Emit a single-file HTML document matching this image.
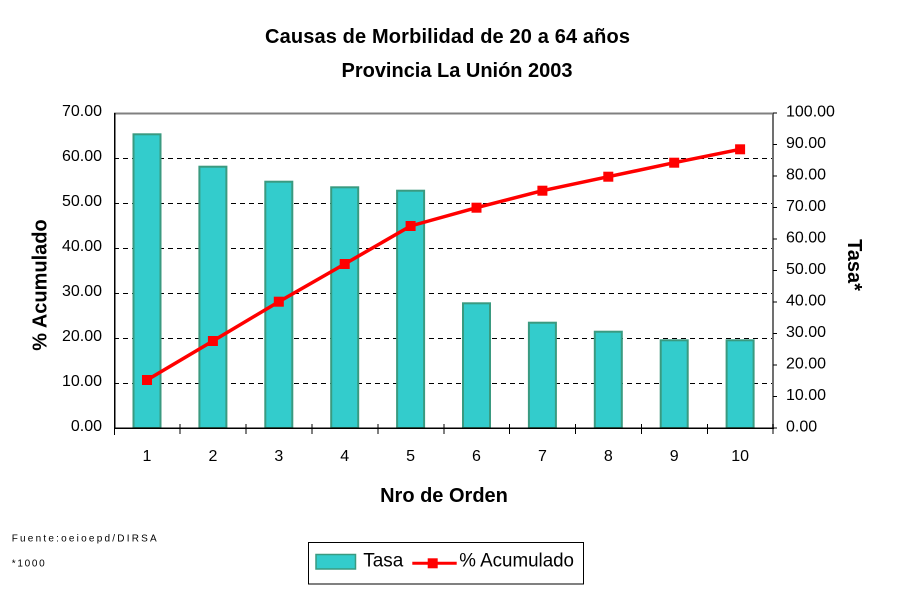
<!DOCTYPE html>
<html>
<head>
<meta charset="utf-8">
<style>
  html, body { margin: 0; padding: 0; background: #ffffff; }
  svg { display: block; }
  text { font-family: "Liberation Sans", Arial, sans-serif; fill: #000; }
</style>
</head>
<body>
<svg width="900" height="600" viewBox="0 0 900 600" xmlns="http://www.w3.org/2000/svg">
  <rect x="0" y="0" width="900" height="600" fill="#ffffff"/>

  <!-- Title -->
  <text x="447.5" y="43" font-size="20" font-weight="bold" text-anchor="middle" textLength="365" lengthAdjust="spacing">Causas de Morbilidad de 20 a 64  años</text>
  <text x="457" y="77" font-size="20" font-weight="bold" text-anchor="middle" textLength="231" lengthAdjust="spacing">Provincia La Unión 2003</text>

  <!-- Gridlines (left axis 10..60) -->
  <g stroke="#000" stroke-width="1" stroke-dasharray="5,4" shape-rendering="crispEdges">
    <line x1="114" y1="383.5" x2="773" y2="383.5"/>
    <line x1="114" y1="338.5" x2="773" y2="338.5"/>
    <line x1="114" y1="293.5" x2="773" y2="293.5"/>
    <line x1="114" y1="248.5" x2="773" y2="248.5"/>
    <line x1="114" y1="203.5" x2="773" y2="203.5"/>
    <line x1="114" y1="158.5" x2="773" y2="158.5"/>
  </g>

  <!-- Bars -->
  <g fill="#33CCCC" stroke="#3A9A80" stroke-width="2">
    <rect x="133.5" y="134.3" width="27" height="293.7"/>
    <rect x="199.4" y="166.7" width="27" height="261.3"/>
    <rect x="265.3" y="181.7" width="27" height="246.3"/>
    <rect x="331.2" y="187.3" width="27" height="240.7"/>
    <rect x="397.1" y="190.7" width="27" height="237.3"/>
    <rect x="463.0" y="303.3" width="27" height="124.7"/>
    <rect x="528.9" y="322.7" width="27" height="105.3"/>
    <rect x="594.8" y="331.7" width="27" height="96.3"/>
    <rect x="660.7" y="340.3" width="27" height="87.7"/>
    <rect x="726.6" y="340.3" width="27" height="87.7"/>
  </g>

  <!-- Plot borders / axes -->
  <g shape-rendering="crispEdges">
    <line x1="114" y1="113.5" x2="773" y2="113.5" stroke="#808080" stroke-width="2"/>
    <line x1="773" y1="113" x2="773" y2="428" stroke="#707070" stroke-width="2"/>
    <line x1="114.5" y1="113" x2="114.5" y2="428" stroke="#000" stroke-width="1.5"/>
    <line x1="114" y1="428" x2="774" y2="428" stroke="#000" stroke-width="1.5"/>
  </g>

  <!-- X ticks -->
  <g stroke="#000" stroke-width="1.2" shape-rendering="crispEdges">
    <line x1="114.5" y1="428" x2="114.5" y2="435"/>
    <line x1="180" y1="424" x2="180" y2="434"/>
    <line x1="246" y1="424" x2="246" y2="434"/>
    <line x1="312" y1="424" x2="312" y2="434"/>
    <line x1="378" y1="424" x2="378" y2="434"/>
    <line x1="444" y1="424" x2="444" y2="434"/>
    <line x1="509.5" y1="424" x2="509.5" y2="434"/>
    <line x1="575.5" y1="424" x2="575.5" y2="434"/>
    <line x1="641.5" y1="424" x2="641.5" y2="434"/>
    <line x1="707.5" y1="424" x2="707.5" y2="434"/>
    <line x1="773" y1="424" x2="773" y2="434"/>
  </g>

  <!-- Right axis ticks -->
  <g stroke="#000" stroke-width="1" shape-rendering="crispEdges">
    <line x1="773" y1="428" x2="777" y2="428"/>
    <line x1="773" y1="396.5" x2="777" y2="396.5"/>
    <line x1="773" y1="365" x2="777" y2="365"/>
    <line x1="773" y1="333.5" x2="777" y2="333.5"/>
    <line x1="773" y1="302" x2="777" y2="302"/>
    <line x1="773" y1="270.5" x2="777" y2="270.5"/>
    <line x1="773" y1="239" x2="777" y2="239"/>
    <line x1="773" y1="207.5" x2="777" y2="207.5"/>
    <line x1="773" y1="176" x2="777" y2="176"/>
    <line x1="773" y1="144.5" x2="777" y2="144.5"/>
    <line x1="773" y1="113" x2="777" y2="113"/>
  </g>

  <!-- Left axis labels -->
  <g font-size="16" text-anchor="end">
    <text x="102" y="431">0.00</text>
    <text x="102" y="386">10.00</text>
    <text x="102" y="341">20.00</text>
    <text x="102" y="296">30.00</text>
    <text x="102" y="251">40.00</text>
    <text x="102" y="206">50.00</text>
    <text x="102" y="161">60.00</text>
    <text x="102" y="116">70.00</text>
  </g>

  <!-- Right axis labels -->
  <g font-size="16" text-anchor="start">
    <text x="786" y="431.5">0.00</text>
    <text x="786" y="400">10.00</text>
    <text x="786" y="368.5">20.00</text>
    <text x="786" y="337">30.00</text>
    <text x="786" y="305.5">40.00</text>
    <text x="786" y="274">50.00</text>
    <text x="786" y="242.5">60.00</text>
    <text x="786" y="211">70.00</text>
    <text x="786" y="179.5">80.00</text>
    <text x="786" y="148">90.00</text>
    <text x="786" y="116.5">100.00</text>
  </g>

  <!-- X labels -->
  <g font-size="16" text-anchor="middle">
    <text x="147" y="461">1</text>
    <text x="212.9" y="461">2</text>
    <text x="278.8" y="461">3</text>
    <text x="344.7" y="461">4</text>
    <text x="410.6" y="461">5</text>
    <text x="476.5" y="461">6</text>
    <text x="542.4" y="461">7</text>
    <text x="608.3" y="461">8</text>
    <text x="674.2" y="461">9</text>
    <text x="740.1" y="461">10</text>
  </g>

  <!-- Axis titles -->
  <text x="444" y="502" font-size="20" font-weight="bold" text-anchor="middle">Nro de Orden</text>
  <text transform="translate(46.5,285) rotate(-90)" font-size="20" font-weight="bold" text-anchor="middle">% Acumulado</text>
  <text transform="translate(848,265) rotate(90)" font-size="20" font-weight="bold" text-anchor="middle">Tasa*</text>

  <!-- Line series -->
  <polyline fill="none" stroke="#FF0000" stroke-width="3.5" stroke-linejoin="round"
    points="147,380 212.9,341 278.8,301.7 344.7,264 410.6,226 476.5,207.7 542.4,190.7 608.3,176.7 674.2,162.7 740.1,149.3"/>
  <g fill="#FF0000">
    <rect x="142" y="375" width="10" height="10"/>
    <rect x="207.9" y="336" width="10" height="10"/>
    <rect x="273.8" y="296.7" width="10" height="10"/>
    <rect x="339.7" y="259" width="10" height="10"/>
    <rect x="405.6" y="221" width="10" height="10"/>
    <rect x="471.5" y="202.7" width="10" height="10"/>
    <rect x="537.4" y="185.7" width="10" height="10"/>
    <rect x="603.3" y="171.7" width="10" height="10"/>
    <rect x="669.2" y="157.7" width="10" height="10"/>
    <rect x="735.1" y="144.3" width="10" height="10"/>
  </g>

  <!-- Footnotes -->
  <text x="11.7" y="541.7" font-size="10" textLength="145" lengthAdjust="spacing">Fuente:oeioepd/DIRSA</text>
  <text x="11.7" y="566.7" font-size="10" textLength="33" lengthAdjust="spacing">*1000</text>

  <!-- Legend -->
  <rect x="308.5" y="542.5" width="275" height="41.5" fill="#ffffff" stroke="#000" stroke-width="1"/>
  <rect x="316" y="554.5" width="39.5" height="14.5" fill="#33CCCC" stroke="#3A9A80" stroke-width="1.5"/>
  <text x="363.3" y="566.7" font-size="19.5" textLength="40" lengthAdjust="spacingAndGlyphs">Tasa</text>
  <line x1="412.3" y1="563.3" x2="456.7" y2="563.3" stroke="#FF0000" stroke-width="3"/>
  <rect x="427.7" y="558.3" width="10" height="10" fill="#FF0000"/>
  <text x="459.3" y="566.7" font-size="19.5" textLength="114.7" lengthAdjust="spacingAndGlyphs">% Acumulado</text>
</svg>
</body>
</html>
